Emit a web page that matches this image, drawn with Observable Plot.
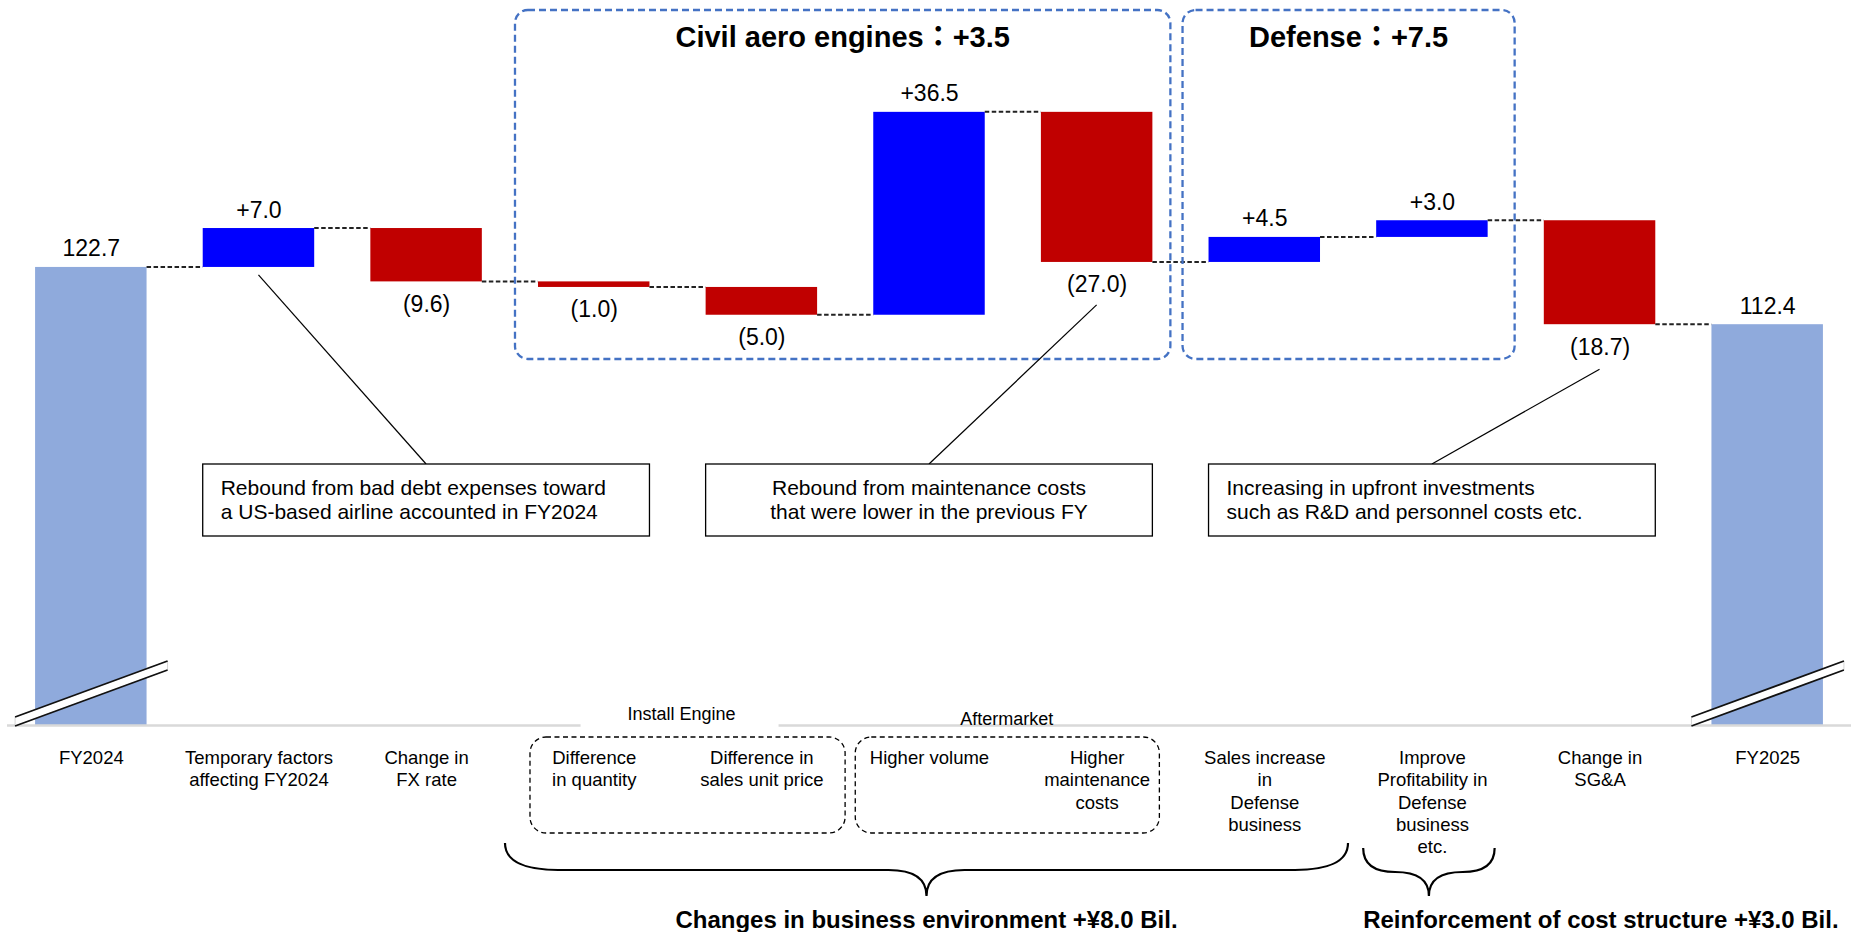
<!DOCTYPE html>
<html><head><meta charset="utf-8">
<script src="https://cdn.jsdelivr.net/npm/d3@7"></script>
<script src="https://cdn.jsdelivr.net/npm/@observablehq/plot@0.6"></script>
<style>
html,body{margin:0;padding:0;background:#fff;}
#chart svg{display:block;}
</style></head><body><div id="chart"></div>
<script>
// ---- data ----
const categories = [
  "FY2024",
  "Temporary factors\naffecting FY2024",
  "Change in\nFX rate",
  "Difference\nin quantity",
  "Difference in\nsales unit price",
  "Higher volume",
  "Higher\nmaintenance\ncosts",
  "Sales increase\nin\nDefense\nbusiness",
  "Improve\nProfitability in\nDefense\nbusiness\netc.",
  "Change in\nSG&A",
  "FY2025"
];
const values = [122.7, 7.0, -9.6, -1.0, -5.0, 36.5, -27.0, 4.5, 3.0, -18.7, 112.4];
const kinds = ["total","delta","delta","delta","delta","delta","delta","delta","delta","delta","total"];
const valueLabels = ["122.7","+7.0","(9.6)","(1.0)","(5.0)","+36.5","(27.0)","+4.5","+3.0","(18.7)","112.4"];
const axisBase = 40.3;   // value at the broken axis
const groupTitles = ["Civil aero engines：+3.5", "Defense：+7.5"];
const groupRanges = [[3, 6], [7, 8]];
const subGroupLabels = ["Install Engine", "Aftermarket"];
const subGroupRanges = [[3, 4], [5, 6]];
const calloutTexts = [
  ["Rebound from bad debt expenses toward", "a US-based airline accounted in FY2024"],
  ["Rebound from maintenance costs", "that were lower in the previous FY"],
  ["Increasing in upfront investments", "such as R&D and personnel costs etc."]
];
const calloutRanges = [[1, 3], [4, 6], [7, 9]];
const calloutSources = [1, 6, 9];
const braceTexts = ["Changes in business environment +¥8.0 Bil.", "Reinforcement of cost structure +¥3.0 Bil."];

// ---- table ----
let run = 0;
const data = categories.map((cat, i) => {
  const v = values[i];
  let y1, y2, end;
  if (kinds[i] === "total") { y1 = axisBase; y2 = v; end = v; }
  else { y1 = run; y2 = run + v; end = run + v; }
  run = end;
  return {cat, value: v, kind: kinds[i], y1, y2, lo: Math.min(y1, y2), hi: Math.max(y1, y2), end, label: valueLabels[i]};
});

const FONT = "'Liberation Sans', Arial, 'Noto Sans CJK JP', sans-serif";
const colorOf = d => d.kind === "total" ? "#8FAADC" : (d.value > 0 ? "#0000FF" : "#C00000");

const plot = Plot.plot({
  width: 1860, height: 932,
  marginLeft: 7, marginRight: 9, marginTop: 4, marginBottom: 207,
  style: {fontFamily: FONT, color: "#000", background: "#fff", overflow: "visible"},
  x: {domain: categories, paddingInner: 0.335, paddingOuter: 0.1675, round: false},
  y: {domain: [axisBase, 170], axis: null},
  marks: [
    Plot.barY(data, {x: "cat", y1: "y1", y2: "y2", fill: colorOf}),
    Plot.ruleY([axisBase], {stroke: "#d9d9d9", strokeWidth: 2.5}),
    Plot.text(data.filter(d => d.kind === "total" || d.value > 0), {x: "cat", y: "hi", text: "label", lineAnchor: "bottom", dy: -11, fontSize: 23, fill: "#000"}),
    Plot.text(data.filter(d => d.kind !== "total" && d.value < 0), {x: "cat", y: "lo", text: "label", lineAnchor: "bottom", dy: 30, fontSize: 23, fill: "#000"}),
    Plot.axisX({tickSize: 0, tickPadding: 23, fontSize: 18.5, lineHeight: 1.2, label: null, tickFormat: d => d})
  ]
});
document.getElementById("chart").appendChild(plot);

// ---- annotations drawn with the plot's scales ----
const svg = d3.select(plot);
const sx = plot.scale("x"), sy = plot.scale("y");
const bw = sx.bandwidth;
const bx = i => sx.apply(categories[i]);
const bc = i => bx(i) + bw / 2;
const base = sy.apply(axisBase);
const g = svg.append("g").attr("font-family", FONT);

// connectors
for (let i = 0; i < data.length - 1; i++) {
  const y = sy.apply(data[i].end);
  g.append("line").attr("x1", bx(i) + bw).attr("x2", bx(i + 1)).attr("y1", y).attr("y2", y)
    .attr("stroke", "#222").attr("stroke-width", 2).attr("stroke-dasharray", "4.5,2.5");
}

// axis break strips on total bars
data.forEach((d, i) => {
  if (d.kind !== "total") return;
  const x0 = bx(i) - 20, x1 = bx(i) + bw + 21;
  const pts = [[x0, base + 1], [x1, base - 55], [x1, base - 64], [x0, base - 8]];
  g.append("polygon").attr("points", pts.map(p => p.join(",")).join(" ")).attr("fill", "#fff").attr("stroke", "#ccc").attr("stroke-width", 0.8);
  g.append("line").attr("x1", x0).attr("y1", base + 1).attr("x2", x1).attr("y2", base - 55).attr("stroke", "#111").attr("stroke-width", 1.8);
  g.append("line").attr("x1", x0).attr("y1", base - 8).attr("x2", x1).attr("y2", base - 64).attr("stroke", "#111").attr("stroke-width", 1.8);
});

// blue dashed group boxes + titles
const groupPad = [[-23, 18], [-26, 27]];
groupRanges.forEach(([a, b], k) => {
  const x0 = bx(a) + groupPad[k][0], x1 = bx(b) + bw + groupPad[k][1];
  g.append("rect").attr("x", x0).attr("y", 10).attr("width", x1 - x0).attr("height", 349)
    .attr("rx", 13).attr("fill", "none").attr("stroke", "#4472C4").attr("stroke-width", 2.3).attr("stroke-dasharray", "7,4");
  g.append("text").attr("x", (x0 + x1) / 2).attr("y", 47).attr("text-anchor", "middle")
    .attr("font-size", 29).attr("font-weight", "bold").attr("fill", "#000").text(groupTitles[k]);
});

// callout leader lines and boxes
const leaderStartY = [sy.apply(data[1].lo) + 8, sy.apply(data[6].lo) + 43, sy.apply(data[9].lo) + 45];
calloutRanges.forEach(([a, b], k) => {
  const x0 = bx(a), x1 = bx(b) + bw, top = 464, h = 72;
  const cx = (x0 + x1) / 2;
  g.append("line").attr("x1", bc(calloutSources[k])).attr("y1", leaderStartY[k]).attr("x2", cx).attr("y2", top)
    .attr("stroke", "#000").attr("stroke-width", 1.2);
  g.append("rect").attr("x", x0).attr("y", top).attr("width", x1 - x0).attr("height", h)
    .attr("fill", "#fff").attr("stroke", "#000").attr("stroke-width", 1.3);
  const centered = k === 1;
  calloutTexts[k].forEach((line, j) => {
    g.append("text").attr("x", centered ? cx : x0 + (k === 0 ? 18 : 18)).attr("y", top + 31 + j * 24)
      .attr("text-anchor", centered ? "middle" : "start").attr("font-size", 21).attr("fill", "#000").text(line);
  });
});

// sub-group dashed boxes and labels
const subPad = [[-8, 28], [-18, 7]];
subGroupRanges.forEach(([a, b], k) => {
  const x0 = bx(a) + subPad[k][0], x1 = bx(b) + bw + subPad[k][1];
  g.append("rect").attr("x", x0).attr("y", 737).attr("width", x1 - x0).attr("height", 96)
    .attr("rx", 16).attr("fill", "none").attr("stroke", "#000").attr("stroke-width", 1.3).attr("stroke-dasharray", "5,3.5");
  const cx = (bc(a) + bc(b)) / 2;
  if (k === 0) g.append("rect").attr("x", cx - 97).attr("y", 712).attr("width", 198).attr("height", 20).attr("fill", "#fff");
  g.append("text").attr("x", cx + (k === 0 ? 4 : -6)).attr("y", k === 0 ? 720 : 725).attr("text-anchor", "middle")
    .attr("font-size", 18).attr("fill", "#000").text(subGroupLabels[k]);
});

// braces
function brace(x0, x1, tip, yTop, yMid, yTip, r) {
  return `M${x0},${yTop} C${x0},${yMid - 8} ${x0 + r * 0.4},${yMid} ${x0 + r},${yMid} L${tip - 38},${yMid} C${tip - 14},${yMid} ${tip},${yMid + 8} ${tip},${yTip} C${tip},${yMid + 8} ${tip + 14},${yMid} ${tip + 38},${yMid} L${x1 - r},${yMid} C${x1 - r * 0.4},${yMid} ${x1},${yMid - 8} ${x1},${yTop}`;
}
const bigX0 = bx(3) - 33, bigX1 = bx(7) + bw + 28, bigTip = (bigX0 + bigX1) / 2;
g.append("path").attr("d", brace(bigX0, bigX1, bigTip, 843, 870, 896, 53)).attr("fill", "none").attr("stroke", "#000").attr("stroke-width", 2.2);
const smX0 = bx(8) - 13, smX1 = bx(8) + bw + 7, smTip = (smX0 + smX1) / 2;
g.append("path").attr("d", `M${smX0},${848} C${smX0},${866} ${smX0 + 14},${872} ${smX0 + 32},${872} C${smTip - 14},${872} ${smTip},${878} ${smTip},${896} C${smTip},${878} ${smTip + 14},${872} ${smX1 - 32},${872} C${smX1 - 14},${872} ${smX1},${866} ${smX1},${848}`)
  .attr("fill", "none").attr("stroke", "#000").attr("stroke-width", 2.2);
g.append("text").attr("x", bigTip).attr("y", 928).attr("text-anchor", "middle").attr("font-size", 24).attr("font-weight", "bold").attr("fill", "#000").text(braceTexts[0]);
g.append("text").attr("x", smX0).attr("y", 928).attr("text-anchor", "start").attr("font-size", 24).attr("font-weight", "bold").attr("fill", "#000").text(braceTexts[1]);
</script></body></html>
